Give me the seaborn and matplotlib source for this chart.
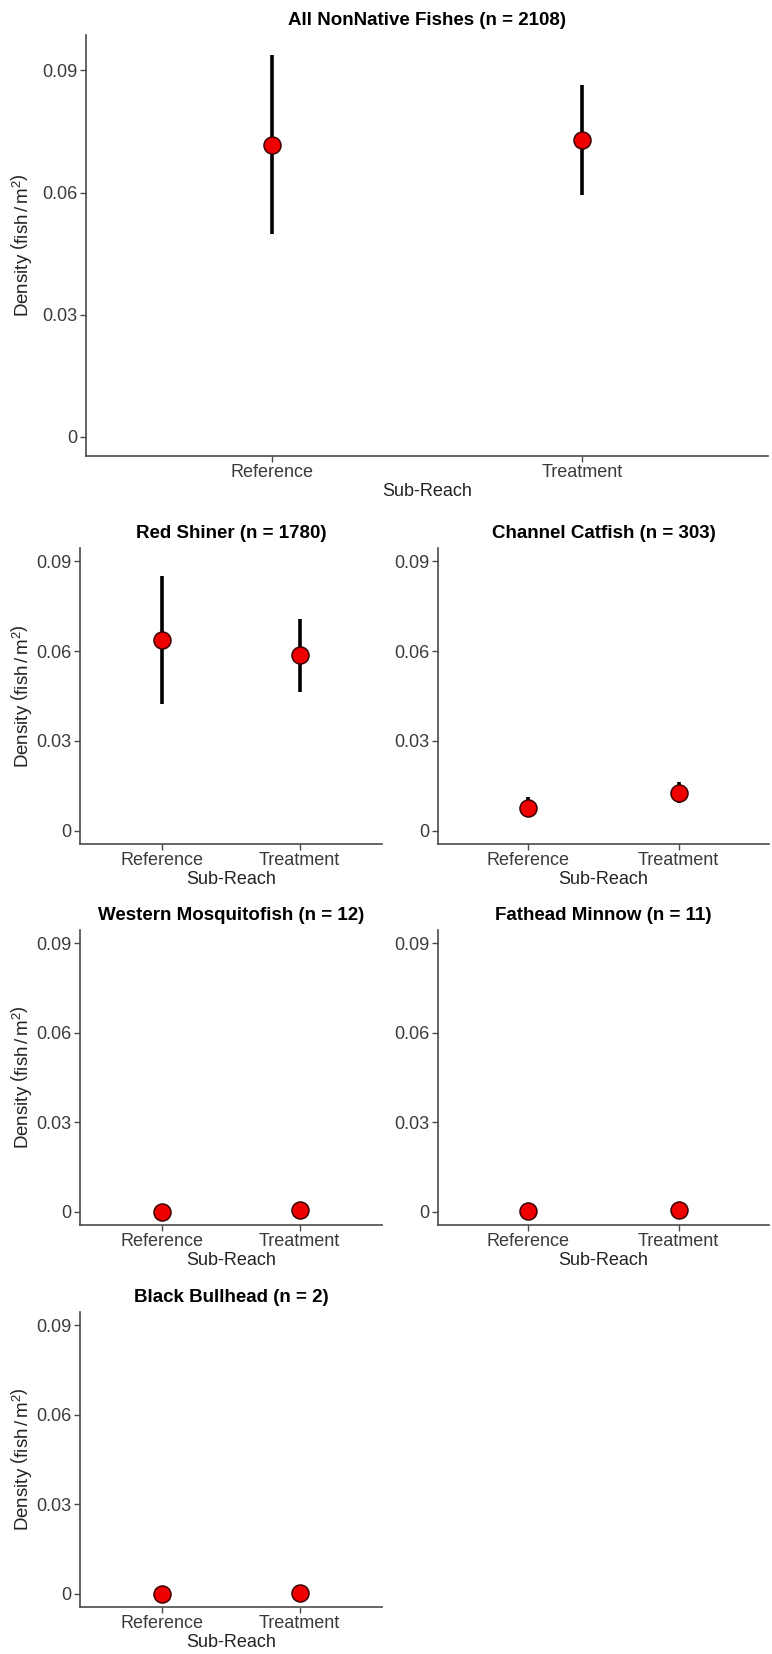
import numpy as np
import pandas as pd
import seaborn as sns
import matplotlib
matplotlib.use("Agg")
import matplotlib.pyplot as plt

sns.set_theme(style="white")
NARROW = ["Liberation Sans Narrow", "Liberation Sans", "DejaVu Sans"]
REGULAR = ["Liberation Sans", "DejaVu Sans"]
plt.rcParams["font.family"] = REGULAR
plt.rcParams["mathtext.fontset"] = "custom"
plt.rcParams["mathtext.rm"] = "Liberation Sans"
plt.rcParams["mathtext.it"] = "Liberation Sans:italic"

# ---------------- data ----------------
sub_reach = ["Reference", "Treatment"]
panel_titles = [
    "All NonNative Fishes (n = 2108)",
    "Red Shiner (n = 1780)",
    "Channel Catfish (n = 303)",
    "Western Mosquitofish (n = 12)",
    "Fathead Minnow (n = 11)",
    "Black Bullhead (n = 2)",
]
all_mean = [0.0718, 0.0730]
all_lo = [0.0498, 0.0594]
all_hi = [0.0938, 0.0864]

red_shiner_mean = [0.0637, 0.0587]
red_shiner_lo = [0.0424, 0.0465]
red_shiner_hi = [0.0852, 0.0709]

catfish_mean = [0.0076, 0.0124]
catfish_lo = [0.0044, 0.0091]
catfish_hi = [0.0111, 0.0161]

mosquito_mean = [0.0000, 0.0007]
mosquito_lo = [0.0000, 0.0004]
mosquito_hi = [0.0001, 0.0010]

fathead_mean = [0.0001, 0.0005]
fathead_lo = [0.0000, 0.0002]
fathead_hi = [0.0002, 0.0008]

bullhead_mean = [0.0000, 0.0001]
bullhead_lo = [0.0000, 0.0000]
bullhead_hi = [0.0000, 0.0002]

y_ticks = [0, 0.03, 0.06, 0.09]
y_ticklabels = ["0", "0.03", "0.06", "0.09"]

series = [
    (all_mean, all_lo, all_hi),
    (red_shiner_mean, red_shiner_lo, red_shiner_hi),
    (catfish_mean, catfish_lo, catfish_hi),
    (mosquito_mean, mosquito_lo, mosquito_hi),
    (fathead_mean, fathead_lo, fathead_hi),
    (bullhead_mean, bullhead_lo, bullhead_hi),
]

# ---------------- layout (pixels) ----------------
W, H = 772, 1654
fig = plt.figure(figsize=(W / 100, H / 100), dpi=100)

def px_axes(x0, x1, y0, y1):
    return fig.add_axes([x0 / W, 1 - y1 / H, (x1 - x0) / W, (y1 - y0) / H])

boxes = [
    (86, 768, 35, 456),
    (80, 382, 548, 844),
    (438, 769, 548, 844),
    (80, 382, 930, 1225),
    (438, 769, 930, 1225),
    (80, 382, 1312, 1607),
]
ylims = [(-0.0047, 0.0987)] + [(-0.0045, 0.0945)] * 5
show_ylabel = [True, True, False, True, False, True]

ylabel_text = r"Density $\left(\mathrm{fish\,/\,m^{2}}\right)$"

for i, (box, title, (m, lo, hi)) in enumerate(zip(boxes, panel_titles, series)):
    ax = px_axes(*box)
    df = pd.DataFrame({"Sub-Reach": sub_reach, "mean": m, "lo": lo, "hi": hi})
    ax.vlines(df["Sub-Reach"], df["lo"], df["hi"], color="black",
              linewidth=2.6, zorder=2)
    sns.scatterplot(data=df, x="Sub-Reach", y="mean", ax=ax, s=150,
                    color="#ee0000", edgecolor="#3a0000", linewidth=1.1,
                    zorder=3, legend=False)
    ax.set_xlim(-0.6, 1.6)
    ax.set_ylim(*ylims[i])
    ax.set_yticks(y_ticks)
    ax.set_yticklabels(y_ticklabels)
    for s in ["top", "right"]:
        ax.spines[s].set_visible(False)
    for s in ["left", "bottom"]:
        ax.spines[s].set_color("#4a4a4a")
        ax.spines[s].set_linewidth(1.2)
    ax.tick_params(axis="both", which="major", length=4, width=1.0,
                   color="#4a4a4a", labelcolor="#3a3a3a", labelsize=13,
                   pad=2, left=True, bottom=True)
    ax.set_title(title, fontsize=13.5, fontweight="bold", color="black",
                 pad=7)
    ax.set_xlabel("Sub-Reach", fontsize=13, color="#222222", labelpad=1)
    if show_ylabel[i]:
        ax.set_ylabel(ylabel_text, fontsize=13.5, color="#222222")
        x0 = box[0]
        ax.yaxis.set_label_coords((21 - x0) / (box[1] - x0), 0.5)
        ax.yaxis.label.set_verticalalignment("center")
    else:
        ax.set_ylabel("")
    ax.grid(False)

fig.savefig("out.png", dpi=100, facecolor="white")
